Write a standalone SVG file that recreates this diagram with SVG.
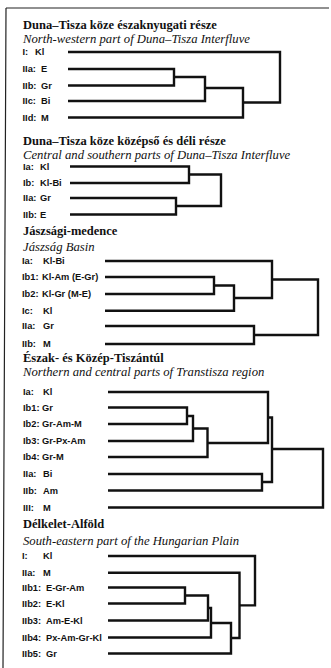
<svg xmlns="http://www.w3.org/2000/svg" width="331" height="668" viewBox="0 0 331 668">
<style>
.t{font-family:"Liberation Serif","Times New Roman",serif;font-weight:bold;font-size:12.5px;fill:#111}
.s{font-family:"Liberation Serif","Times New Roman",serif;font-style:italic;font-size:12.7px;fill:#111}
.l{font-family:"Liberation Sans",Arial,sans-serif;font-weight:bold;font-size:9.3px;fill:#111}
.c path{fill:none;stroke:#111;stroke-width:2.4;stroke-linejoin:miter;stroke-linecap:butt}
.f{fill:none;stroke:#222;stroke-width:1.2}
</style>
<rect width="331" height="668" fill="#fff"/>
<path class="f" d="M6 8 H329 M6 8 L3 668"/>

<g id="sec1">
<text class="t" x="23" y="29">Duna–Tisza köze északnyugati része</text>
<text class="s" x="23" y="43">North-western part of Duna–Tisza Interfluve</text>
<g id="s1-I"><text class="l" x="22.5" y="55.3">I:<tspan x="35">Kl</tspan></text></g>
<g id="s1-IIa"><text class="l" x="22.5" y="72.3">IIa:<tspan x="41">E</tspan></text></g>
<g id="s1-IIb"><text class="l" x="22.5" y="88.8">IIb:<tspan x="41">Gr</tspan></text></g>
<g id="s1-IIc"><text class="l" x="22.5" y="104.3">IIc:<tspan x="41">Bi</tspan></text></g>
<g id="s1-IId"><text class="l" x="22.5" y="120.8">IId:<tspan x="41">M</tspan></text></g>
</g>

<g id="sec2">
<text class="t" x="23" y="145">Duna–Tisza köze középső és déli része</text>
<text class="s" x="23" y="158.8">Central and southern parts of Duna–Tisza Interfluve</text>
<g id="s2-Ia"><text class="l" x="23" y="169.8">Ia:<tspan x="40">Kl</tspan></text></g>
<g id="s2-Ib"><text class="l" x="23" y="186.3">Ib:<tspan x="40">Kl-Bi</tspan></text></g>
<g id="s2-IIa"><text class="l" x="23" y="201.3">IIa:<tspan x="40">Gr</tspan></text></g>
<g id="s2-IIb"><text class="l" x="23" y="217.8">IIb:<tspan x="40">E</tspan></text></g>
</g>

<g id="sec3">
<text class="t" x="23" y="235">Jászsági-medence</text>
<text class="s" x="23" y="251">Jászság Basin</text>
<g id="s3-Ia"><text class="l" x="22" y="264.3">Ia:<tspan x="43">Kl-Bi</tspan></text></g>
<g id="s3-Ib1"><text class="l" x="22" y="280.3">Ib1:<tspan x="42">Kl-Am (E-Gr)</tspan></text></g>
<g id="s3-Ib2"><text class="l" x="22" y="297.3">Ib2:<tspan x="42">Kl-Gr (M-E)</tspan></text></g>
<g id="s3-Ic"><text class="l" x="22" y="314">Ic:<tspan x="43">Kl</tspan></text></g>
<g id="s3-IIa"><text class="l" x="22" y="329.3">IIa:<tspan x="43">Gr</tspan></text></g>
<g id="s3-IIb"><text class="l" x="22" y="347.3">IIb:<tspan x="43">M</tspan></text></g>
</g>

<g id="sec4">
<text class="t" x="23" y="362">Észak- és Közép-Tiszántúl</text>
<text class="s" x="23" y="375.8">Northern and central parts of Transtisza region</text>
<g id="s4-Ia"><text class="l" x="23" y="395.3">Ia:<tspan x="43">Kl</tspan></text></g>
<g id="s4-Ib1"><text class="l" x="23" y="410.8">Ib1:<tspan x="42">Gr</tspan></text></g>
<g id="s4-Ib2"><text class="l" x="23" y="427.3">Ib2:<tspan x="42">Gr-Am-M</tspan></text></g>
<g id="s4-Ib3"><text class="l" x="23" y="444.3">Ib3:<tspan x="42">Gr-Px-Am</tspan></text></g>
<g id="s4-Ib4"><text class="l" x="23" y="460.3">Ib4:<tspan x="42">Gr-M</tspan></text></g>
<g id="s4-IIa"><text class="l" x="23" y="477.3">IIa:<tspan x="43">Bi</tspan></text></g>
<g id="s4-IIb"><text class="l" x="23" y="493.8">IIb:<tspan x="43">Am</tspan></text></g>
<g id="s4-III"><text class="l" x="23" y="510.8">III:<tspan x="43">M</tspan></text></g>
</g>

<g id="sec5">
<text class="t" x="23" y="527.5">Délkelet-Alföld</text>
<text class="s" x="23" y="545">South-eastern part of the Hungarian Plain</text>
<g id="s5-I"><text class="l" x="22" y="559.3">I:<tspan x="43">Kl</tspan></text></g>
<g id="s5-IIa"><text class="l" x="22" y="576">IIa:<tspan x="43">M</tspan></text></g>
<g id="s5-IIb1"><text class="l" x="22" y="590.8">IIb1:<tspan x="46">E-Gr-Am</tspan></text></g>
<g id="s5-IIb2"><text class="l" x="22" y="606.8">IIb2:<tspan x="46">E-Kl</tspan></text></g>
<g id="s5-IIb3"><text class="l" x="22" y="623.8">IIb3:<tspan x="46">Am-E-Kl</tspan></text></g>
<g id="s5-IIb4"><text class="l" x="22" y="640.8">IIb4:<tspan x="46">Px-Am-Gr-Kl</tspan></text></g>
<g id="s5-IIb5"><text class="l" x="22" y="656.8">IIb5:<tspan x="46">Gr</tspan></text></g>
</g>

<g id="connectors" class="c">
<path d="M68 69 H174 V85.5 H68"/>
<path d="M174 77 H205 V101 H68"/>
<path d="M205 88 H243 V117.5 H68"/>
<path d="M243 102.5 H280 V52 H68"/>

<path d="M70 166.5 H189 V183 H70"/>
<path d="M70 198 H176 V214.5 H70"/>
<path d="M189 174.5 H221 V206 H176"/>

<path d="M105 277 H214 V294 H105"/>
<path d="M214 285.5 H234 V310.7 H105"/>
<path d="M234 298 H272 V261 H105"/>
<path d="M105 326 H254 V344 H105"/>
<path d="M272 279.5 H318 V335 H254"/>

<path d="M108 407.5 H187 V424 H108"/>
<path d="M187 416 H193 V441 H108"/>
<path d="M193 428.5 H207.5 V457 H108"/>
<path d="M207.5 443 H268 V392 H108"/>
<path d="M108 474 H262 V490.5 H108"/>
<path d="M268 417.5 H272 V482 H262"/>
<path d="M272 449 H323 V507.5 H108"/>

<path d="M108 587.5 H185 V603.5 H108"/>
<path d="M185 595.5 H208 V620.5 H108"/>
<path d="M208 608 H211 V637.5 H108"/>
<path d="M211 623 H231 V653.5 H108"/>
<path d="M231 638 H239.5 V572.7 H108"/>
<path d="M239.5 605.4 H255 V556 H108"/>
</g>
</svg>
